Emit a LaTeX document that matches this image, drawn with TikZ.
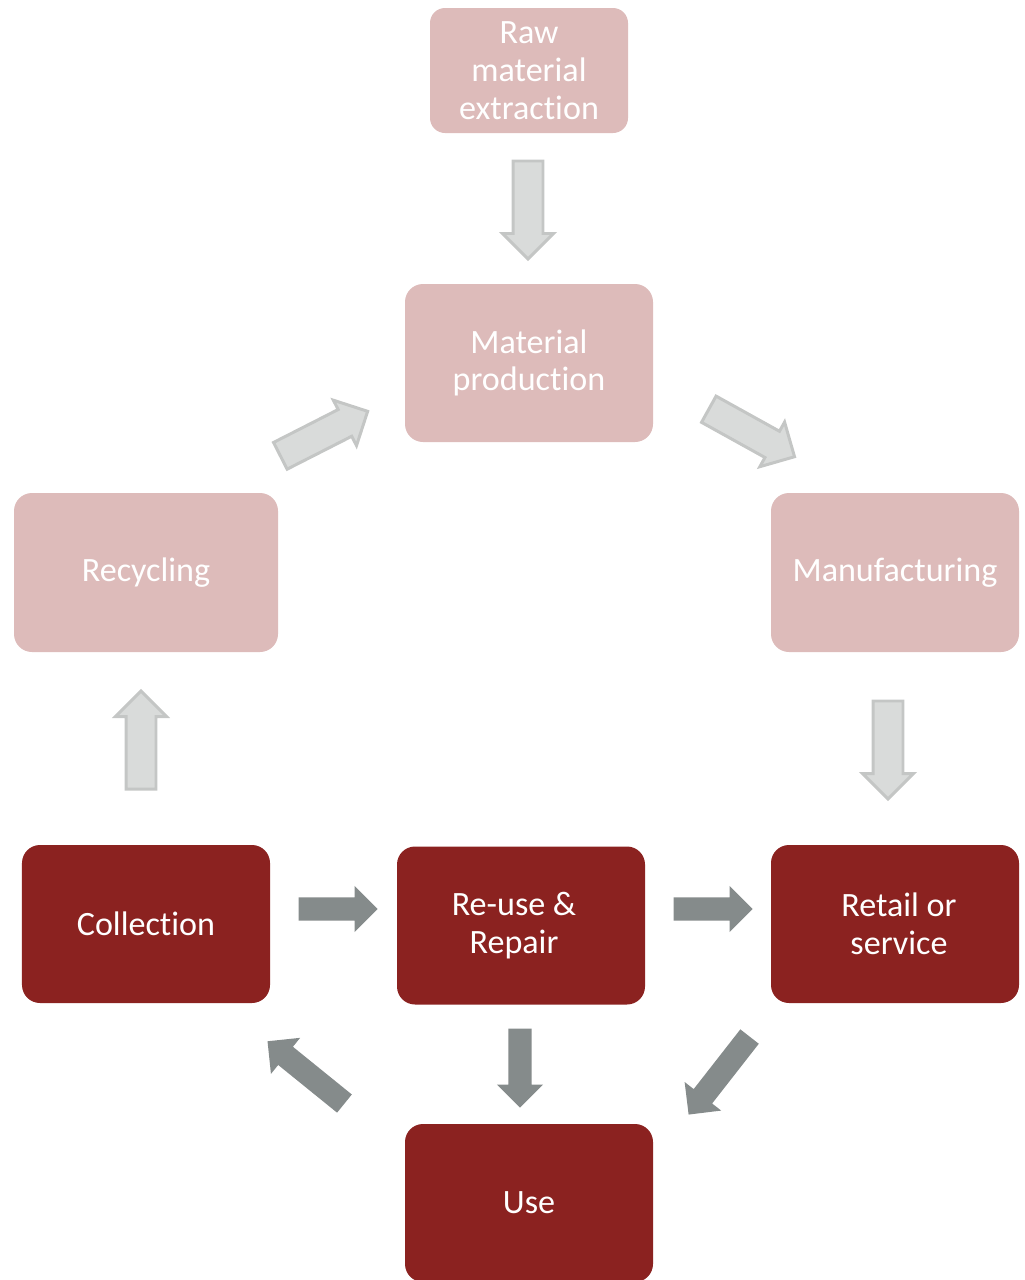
\documentclass[tikz,border=0pt]{standalone}
\usepackage{fontspec}
\setmainfont{Carlito}[Ligatures=NoCommon]
\usepackage{tikz}
\usetikzlibrary{shapes,shapes.arrows,positioning}

\definecolor{palered}{HTML}{DDBBBA}
\definecolor{darkred}{HTML}{8B2220}
\definecolor{palearrow}{HTML}{D9DBDA}
\definecolor{paleedge}{HTML}{C4C6C5}
\definecolor{darkarrow}{HTML}{858B8B}

\begin{document}
\begin{tikzpicture}[thick, every text node part/.style={align=center},
  stage/.style={rectangle, rounded corners=0.36cm, text=white, inner sep=0pt,
    minimum width=4.96cm, minimum height=3.16cm,
    font=\fontsize{19.4}{21.5}\selectfont},
  earlystage/.style={stage, fill=palered},
  latestage/.style={stage, fill=darkred},
  palearr/.style={single arrow, anchor=tail, fill=palearrow, draw=paleedge, line width=1.7pt,
    minimum height=1.96cm, inner xsep=0pt, inner ysep=0.27cm,
    single arrow head extend=0.21cm},
  darkarr/.style={single arrow, anchor=tail, fill=darkarrow, draw=none,
    minimum height=1.58cm, inner xsep=0pt, inner ysep=0.22cm,
    single arrow head extend=0.23cm}]
\useasboundingbox (0,0) rectangle (20.48,-25.6);
\draw
  node (raw) at (10.58,-1.41)[earlystage, rounded corners=0.3cm, minimum width=3.96cm, minimum height=2.5cm]{Raw \\ material \\ extraction}
  node (matprod) at (10.58,-7.26)[earlystage]{Material \\ production}
  node (recycling) at (2.92,-11.45)[earlystage, minimum width=5.28cm, minimum height=3.18cm]{Recycling}
  node (manufact) at (17.9,-11.45)[earlystage, minimum height=3.18cm]{Manufacturing}
  node (collect) at (2.92,-18.48)[latestage]{Collection}
  node (reuse) at (10.42,-18.51)[latestage]{Re-use \&\hspace*{0.28cm} \\ Repair\hspace*{0.28cm}}
  node (retail) at (17.9,-18.48)[latestage]{\hspace*{0.16cm}Retail or \\ \hspace*{0.16cm}service}
  node (use) at (10.58,-24.06)[latestage]{Use};
% pale arrows
\draw
  node (rawmat) at (10.56,-3.19)[palearr, rotate=-90]{}
  node (recmat) at (5.58,-9.13)[palearr, rotate=27]{}
  node (matman) at (14.15,-8.17)[palearr, rotate=-29]{}
  node (manret) at (17.76,-13.99)[palearr, rotate=-90]{}
  node (colrec) at (2.82,-15.81)[palearr, rotate=90]{};
% dark arrows
\draw
  node (colreu) at (5.96,-18.18)[darkarr]{}
  node (reuret) at (13.46,-18.18)[darkarr]{}
  node (reuuse) at (10.40,-20.56)[darkarr, rotate=-90]{}
  node (retuse) at (15.0,-20.72)[darkarr, minimum height=1.98cm, rotate=-128]{}
  node (usecol) at (6.9,-22.08)[darkarr, minimum height=1.98cm, rotate=141]{};
\end{tikzpicture}
\end{document}
